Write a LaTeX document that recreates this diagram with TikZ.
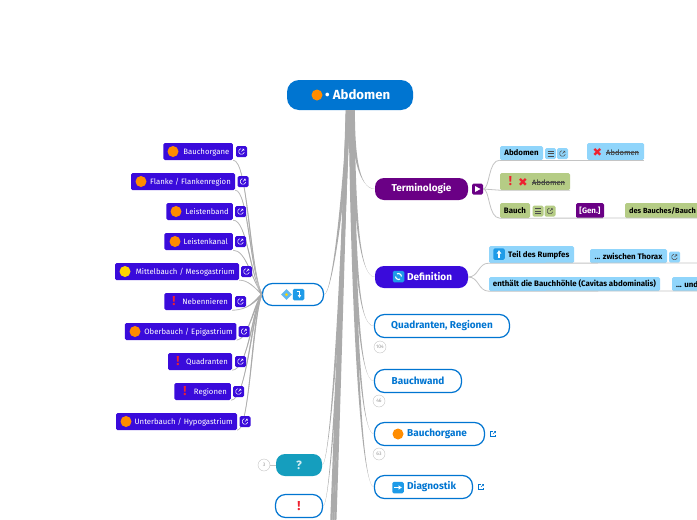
\documentclass[tikz,border=0pt]{standalone}
\usepackage{fontspec}
\setmainfont{Fira Sans}
\newfontfamily\symfont{DejaVu Sans}
\usetikzlibrary{calc,arrows.meta,shapes.geometric}

\definecolor{rootblue}{HTML}{0075D1}
\definecolor{indigo}{HTML}{3A0BDB}
\definecolor{violet}{HTML}{6A0085}
\definecolor{paleblue}{HTML}{90D5FB}
\definecolor{palegreen}{HTML}{B5CC85}
\definecolor{teal}{HTML}{159EBE}
\definecolor{trunkgray}{HTML}{ABABAB}
\definecolor{thingray}{HTML}{C4C4C4}
\definecolor{dotorange}{HTML}{FF8C00}
\definecolor{dotyellow}{HTML}{FFD500}
\definecolor{emojiblue}{HTML}{1E9BE8}
\definecolor{markred}{HTML}{EE2230}

\newcommand{\bigtextcolor}{\bfseries\fontsize{10}{12}\selectfont\color{rootblue}}
\newcommand{\tagfont}{\bfseries\fontsize{7.9}{9}\selectfont\color{black}}

\tikzset{
  rootbox/.style={fill=rootblue, rounded corners=12pt, inner sep=0pt},
  fullbox/.style={fill=#1, rounded corners=9pt, inner sep=0pt},
  ringbox/.style={draw=rootblue, line width=1.2pt, fill=white, rounded corners=10pt, inner sep=0pt},
  tagbox/.style={fill=#1, rounded corners=1.5pt, inner sep=0pt},
  bigtext/.style={font=\bfseries\fontsize{10}{12}\selectfont, inner sep=0pt},
  smalltext/.style={font=\fontsize{7.75}{9}\selectfont, text=white, inner sep=0pt},
  tagtext/.style={font=\bfseries\fontsize{7.9}{9}\selectfont, text=black, inner sep=0pt},
  plaintext/.style={font=\fontsize{7.6}{9}\selectfont, text=black!85, inner sep=0pt},
  colordot/.style={circle, fill=#1, minimum size=11pt, inner sep=0pt},
  redmark/.style={font=\bfseries\fontsize{13}{13}\selectfont, text=markred, inner sep=0pt},
  redcross/.style={font=\symfont\fontsize{11.5}{12}\selectfont, text=markred, inner sep=0pt},
  countdot/.style={circle, draw=thingray, fill=white, minimum size=12pt, inner sep=0pt, text=black!40, font=\fontsize{5}{5}\selectfont},
  linkglyph/.style={path picture={
    \coordinate (c) at (path picture bounding box.center);
    \draw[#1, line width=.55pt] ($(c)+(-.5,-2.6)$) -- ($(c)+(-2.6,-2.6)$) -- ($(c)+(-2.6,2.6)$) -- ($(c)+(2.6,2.6)$) -- ($(c)+(2.6,.5)$);
    \draw[#1, line width=.55pt] ($(c)+(0,0)$) -- ($(c)+(2.6,-2.6)$) ($(c)+(1,-2.6)$) -- ($(c)+(2.6,-2.6)$) -- ($(c)+(2.6,-1)$);
  }},
  menuglyph/.style={path picture={
    \coordinate (c) at (path picture bounding box.center);
    \draw[black!70, line width=.7pt] ($(c)+(-3,-2.5)$) -- ($(c)+(3,-2.5)$) ($(c)+(-3,0)$) -- ($(c)+(3,0)$) ($(c)+(-3,2.5)$) -- ($(c)+(3,2.5)$);
  }},
  linkbox/.style={fill=#1, rounded corners=1.5pt, minimum size=11pt, inner sep=0pt},
  bluelink/.style={minimum size=8pt, inner sep=0pt, linkglyph=rootblue},
  emoji/.style={fill=emojiblue, rounded corners=1.5pt, minimum size=11.5pt, inner sep=0pt},
  whitearrow/.style={draw=white, line width=1.4pt, -{Latex[length=3.5pt,width=5pt]}},
  thinline/.style={draw=thingray, line width=.8pt},
  trunkline/.style={draw=trunkgray, line width=2.2pt},
}

\newcommand{\rootline}[4]{\fill[trunkgray] ($(root.south)+(#1,0)+(-1.9,0)$) .. controls ($#2+(-1.9,0)$) and ($#3+(0,-.6)$) .. (#4) .. controls ($#3+(0,.6)$) and ($#2+(1.9,0)$) .. ($(root.south)+(#1,0)+(1.9,0)$) -- cycle;}
\newcommand{\hubline}[3]{\draw[thinline] (#1) .. controls #2 and #3 .. (hub.west);
  \fill[trunkgray] (#1) .. controls #2 and ($#3+(-1.3,0)$) .. ($(hub.west)+(0,-1.5)$) -- ($(hub.west)+(0,1.5)$) .. controls ($#3+(1.3,0)$) and #2 .. (#1) -- cycle;}

\begin{document}
\begin{tikzpicture}[x=1pt,y=-1pt]
  \clip (0,0) rectangle (697,520);
  \fill[white] (0,0) rectangle (697,520);

  \node[rootbox, minimum width=126pt, minimum height=30pt] (root) at (350,95) {};
  \node[colordot=dotorange] (rootdot) at (317,95) {};
  \node[bigtext, anchor=west, text=white, font=\bfseries\fontsize{13.2}{14}\selectfont] (roottext) at (325,95) {• Abdomen};

  \node[fullbox=violet, minimum width=93pt, minimum height=22pt] (terminologie) at (421.5,189) {\bfseries\fontsize{10}{12}\selectfont\textcolor{white}{Terminologie}};
  \node[tagbox=violet, minimum size=11pt] (play) at (477.5,189) {};
  \fill[white] ($(play.center)+(-2.5,-3)$) -- ($(play.center)+(3,0)$) -- ($(play.center)+(-2.5,3)$) -- cycle;

  \node[fullbox=indigo, minimum width=93pt, minimum height=22pt] (definition) at (421.5,277) {};
  \node[emoji] (defemoji) at (398.5,276.5) {};
  \draw[white, line width=1.1pt] ($(defemoji.center)+(-3,0)$) arc (180:60:3);
  \draw[white, line width=1.1pt] ($(defemoji.center)+(3,0)$) arc (0:-120:3);
  \node[bigtext, anchor=west, text=white] (deftext) at (407,277) {Definition};

  \node[ringbox, minimum width=135pt, minimum height=23pt] (quadranten) at (442,326) {\bigtextcolor Quadranten, Regionen};
  \node[ringbox, minimum width=87pt, minimum height=23pt] (bauchwand) at (418,381) {\bigtextcolor Bauchwand};
  \node[ringbox, minimum width=110pt, minimum height=23pt] (bauchorgane) at (429.5,434) {};
  \node[colordot=dotorange] (organdot) at (398,434) {};
  \node[bigtext, anchor=west, text=rootblue] (organtext) at (407,434) {Bauchorgane};
  \node[bluelink] (organlink) at (493,434) {};
  \node[ringbox, minimum width=98pt, minimum height=23pt] (diagnostik) at (423.5,487) {};
  \node[emoji] (diagemoji) at (398,487.5) {};
  \draw[whitearrow] ($(diagemoji.center)+(-4,0)$) -- ($(diagemoji.center)+(4,0)$);
  \node[bigtext, anchor=west, text=rootblue] (diagtext) at (407,487) {Diagnostik};
  \node[bluelink] (diaglink) at (481,487) {};

  \node[countdot] (count104) at (380,347) {104};
  \node[countdot] (count46) at (379,401) {46};
  \node[countdot] (count63) at (379,454) {63};

  \node[fullbox=teal, minimum width=46pt, minimum height=22pt] (frage) at (299,465) {\bfseries\fontsize{12}{14}\selectfont\textcolor{white!80!teal}{?}};
  \node[countdot] (count3) at (264,465) {3};
  \draw[thinline] (count3) -- (frage);
  \node[ringbox, minimum width=47pt, minimum height=23pt] (ausruf) at (299,506) {};
  \node[redmark] (ausrufmark) at (299,506) {!};

  \node[ringbox, minimum width=61pt, minimum height=22pt] (hub) at (293,294.5) {};
  \node[diamond, fill=emojiblue!70, minimum size=11pt, inner sep=0pt] (hubdiamond) at (286.5,294.5) {};
  \node[circle, fill=dotyellow, minimum size=3pt, inner sep=0pt] (hubcentre) at (286.5,294.5) {};
  \node[emoji] (hubemoji) at (298.5,294.5) {};
  \draw[white, line width=1.1pt, -{Latex[length=3pt,width=4pt]}] ($(hubemoji.center)+(-2,-3)$) -- ($(hubemoji.center)+(1,-3)$) -- ($(hubemoji.center)+(1,3.5)$);

  \node[tagbox=indigo, minimum width=69.5pt, minimum height=17pt] (lorgane) at (198.2,151.5) {};
  \node[colordot=dotorange] (lorganedot) at (173,151.5) {};
  \node[smalltext, anchor=east] (lorganetext) at (229.5,152) {Bauchorgane};

  \node[tagbox=indigo, minimum width=104pt, minimum height=17pt] (lflanke) at (183,181.5) {};
  \node[colordot=dotorange] (lflankedot) at (141,181.5) {};
  \node[smalltext, anchor=east] (lflanketext) at (231,182) {Flanke / Flankenregion};

  \node[tagbox=indigo, minimum width=66.5pt, minimum height=17pt] (lband) at (199.7,211.5) {};
  \node[colordot=dotorange] (lbanddot) at (176,211.5) {};
  \node[smalltext, anchor=east] (lbandtext) at (229,212) {Leistenband};

  \node[tagbox=indigo, minimum width=68.5pt, minimum height=17pt] (lkanal) at (198.7,241.5) {};
  \node[colordot=dotorange] (lkanaldot) at (175,241.5) {};
  \node[smalltext, anchor=east] (lkanaltext) at (228,242) {Leistenkanal};

  \node[tagbox=indigo, minimum width=124pt, minimum height=17pt] (lmittel) at (177,271.5) {};
  \node[colordot=dotyellow] (lmitteldot) at (125,271.5) {};
  \node[smalltext, anchor=east] (lmitteltext) at (235,272) {Mittelbauch / Mesogastrium};

  \node[tagbox=indigo, minimum width=67.5pt, minimum height=17pt] (lniere) at (198.2,301.5) {};
  \node[redmark] (lnieremark) at (174,301.5) {!};
  \node[smalltext, anchor=east] (lnieretext) at (228,302) {Nebennieren};

  \node[tagbox=indigo, minimum width=111.5pt, minimum height=17pt] (lober) at (180.7,331.5) {};
  \node[colordot=dotorange] (loberdot) at (135,331.5) {};
  \node[smalltext, anchor=east] (lobertext) at (233,332) {Oberbauch / Epigastrium};

  \node[tagbox=indigo, minimum width=64pt, minimum height=17pt] (lquad) at (200,361.5) {};
  \node[redmark] (lquadmark) at (178,361.5) {!};
  \node[smalltext, anchor=east] (lquadtext) at (228,362) {Quadranten};

  \node[tagbox=indigo, minimum width=56.5pt, minimum height=17pt] (lregion) at (202.7,391.5) {};
  \node[redmark] (lregionmark) at (185,391.5) {!};
  \node[smalltext, anchor=east] (lregiontext) at (227,392) {Regionen};

  \node[tagbox=indigo, minimum width=121pt, minimum height=17pt] (lunter) at (176.5,421.5) {};
  \node[colordot=dotorange] (lunterdot) at (126,421.5) {};
  \node[smalltext, anchor=east] (luntertext) at (233,422) {Unterbauch / Hypogastrium};

  \node[tagbox=paleblue, minimum width=43pt, minimum height=14pt] (abd) at (521.5,153) {\tagfont Abdomen};
  \node[linkbox=paleblue, menuglyph] (abdmenu) at (550.5,153.5) {};
  \node[linkbox=paleblue, linkglyph=black!70] (abdlink) at (562.5,153.5) {};
  \node[tagbox=paleblue, minimum width=57pt, minimum height=17pt] (abdx) at (615.5,151.5) {};
  \node[redcross] (abdxcross) at (597.5,152) {\char"2716};
  \node[plaintext, anchor=west] (abdxtext) at (606,152.5) {Abdomen};
  \draw[black!70, line width=.4pt] (abdxtext.west) -- (abdxtext.east);

  \node[tagbox=palegreen, minimum width=70pt, minimum height=17pt] (warn) at (535,181.5) {};
  \node[redmark] (warnmark) at (510.5,181.5) {!};
  \node[redcross] (warncross) at (523,182) {\char"2716};
  \node[plaintext, anchor=west] (warntext) at (532,182.5) {Abdomen};
  \draw[black!70, line width=.4pt] (warntext.west) -- (warntext.east);

  \node[tagbox=palegreen, minimum width=30pt, minimum height=15pt] (bauch) at (515,210.5) {\tagfont Bauch};
  \node[linkbox=palegreen, menuglyph] (bauchmenu) at (538,211) {};
  \node[linkbox=palegreen, linkglyph=black!70] (bauchlink) at (550,211) {};
  \node[tagbox=violet, minimum width=28pt, minimum height=15pt, tagtext, text=white] (gen) at (590,210.5) {[Gen.]};
  \node[tagbox=palegreen, minimum width=100pt, minimum height=15pt] (bauches) at (675,210.5) {};
  \node[tagtext, anchor=west, font=\bfseries\fontsize{7.4}{9}\selectfont] (bauchestext) at (629,210.5) {des Bauches/Bauch};

  \node[tagbox=paleblue, minimum width=85pt, minimum height=17pt] (teil) at (531.5,254.5) {};
  \node[emoji] (teilemoji) at (499,254) {};
  \draw[whitearrow] ($(teilemoji.center)+(0,4)$) -- ($(teilemoji.center)+(0,-4)$);
  \node[tagtext, anchor=west] (teiltext) at (508,255) {Teil des Rumpfes};
  \node[tagbox=paleblue, minimum width=77pt, minimum height=14pt] (thorax) at (628.5,256) {\tagfont ... zwischen Thorax};
  \node[linkbox=paleblue, linkglyph=black!70] (thoraxlink) at (674.5,257) {};
  \node[tagbox=paleblue, minimum width=171pt, minimum height=14pt] (hoehle) at (574.5,284) {\tagfont enthält die Bauchhöhle (Cavitas abdominalis)};
  \node[tagbox=paleblue, minimum width=60pt, minimum height=14pt] (und) at (702,284) {};
  \node[tagtext, anchor=west] (undtext) at (676,284.5) {... und};

  \coordinate (bauchend) at (697,218);
  \coordinate (teilend) at (697,263);
  \coordinate (hoehleend) at (697,291);
  \draw[thinline] (abd.south west) -- (abdx.south east);
  \draw[thinline] (bauch.south west) -- (bauchend);
  \draw[thinline] (teil.south west) -- (teilend);
  \draw[thinline] (hoehle.south west) -- (hoehleend);
  \draw[thinline] (play.east) .. controls (490,189) and (488,160) .. (abd.south west);
  \draw[thinline] (play.east) -- (warn.south west) -- (warn.south east);
  \draw[thinline] (play.east) .. controls (490,189) and (488,218) .. (bauch.south west);
  \draw[thinline] (definition.east) .. controls (479,277) and (478,263) .. (teil.south west);
  \draw[thinline] (definition.east) .. controls (479,277) and (478,291) .. (hoehle.south west);

  \rootline{3}{(353,150)}{(358,189)}{terminologie.west}
  \rootline{2.5}{(354,200)}{(358,277)}{definition.west}
  \rootline{2}{(354,260)}{(358,326)}{quadranten.west}
  \rootline{1.5}{(354,300)}{(360,381)}{bauchwand.west}
  \rootline{1}{(354,340)}{(362,434)}{bauchorgane.west}
  \rootline{0.5}{(354,380)}{(364,487)}{diagnostik.west}
  \rootline{-1}{(344,200)}{(332,294.5)}{hub.east}
  \rootline{-2}{(342,290)}{(330,465)}{frage.east}
  \rootline{-2.5}{(342,310)}{(331,506)}{ausruf.east}
  \coordinate (offa) at (331,530);
  \coordinate (offb) at (333,530);
  \coordinate (offc) at (335,530);
  \draw[trunkline] ($(root.south)+(-3,0)$) .. controls (342,270) and (335,420) .. (offa);
  \draw[trunkline] ($(root.south)+(-2.5,0)$) .. controls (342.5,270) and (337,420) .. (offb);
  \draw[trunkline] ($(root.south)+(-2,0)$) .. controls (343,270) and (339,420) .. (offc);

  \hubline{lorgane.south east}{(248,160)}{(249,265)}
  \hubline{lflanke.south east}{(248,190)}{(250,270)}
  \hubline{lband.south east}{(247,220)}{(250,275)}
  \hubline{lkanal.south east}{(246,250)}{(252,280)}
  \hubline{lmittel.south east}{(248,280)}{(254,287)}
  \hubline{lniere.south east}{(248,310)}{(254,302)}
  \hubline{lober.south east}{(248,340)}{(254,305)}
  \hubline{lquad.south east}{(248,370)}{(253,308)}
  \hubline{lregion.south east}{(247,400)}{(252,312)}
  \hubline{lunter.south east}{(250,430)}{(252,318)}

  \node[linkbox=indigo, linkglyph=white] (lorganelink) at (241.5,151.5) {};
  \node[linkbox=indigo, linkglyph=white] (lflankelink) at (243,181.5) {};
  \node[linkbox=indigo, linkglyph=white] (lbandlink) at (240.5,211.5) {};
  \node[linkbox=indigo, linkglyph=white] (lkanallink) at (240.5,241.5) {};
  \node[linkbox=indigo, linkglyph=white] (lmittellink) at (246.5,271.5) {};
  \node[linkbox=indigo, linkglyph=white] (lnierelink) at (240.5,301.5) {};
  \node[linkbox=indigo, linkglyph=white] (loberlink) at (244,331.5) {};
  \node[linkbox=indigo, linkglyph=white] (lquadlink) at (240.5,361.5) {};
  \node[linkbox=indigo, linkglyph=white] (lregionlink) at (238.5,391.5) {};
  \node[linkbox=indigo, linkglyph=white] (lunterlink) at (245,421.5) {};
\end{tikzpicture}
\end{document}
